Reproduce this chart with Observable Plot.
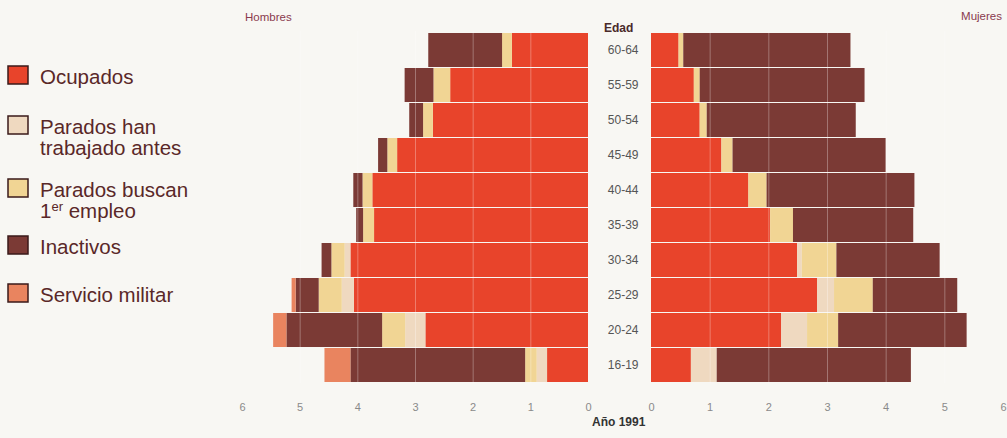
<!DOCTYPE html>
<html><head><meta charset="utf-8">
<script src="https://cdn.jsdelivr.net/npm/d3@7"></script>
<script src="https://cdn.jsdelivr.net/npm/@observablehq/plot@0.6"></script>
<style>
html,body{margin:0;padding:0;background:#f8f7f3;}
#wrap{position:relative;width:1007px;height:438px;overflow:hidden;font-family:"Liberation Sans",Arial,sans-serif;}
#wrap > svg, #wrap > div{position:absolute;top:0;}
</style></head><body><div id="wrap"></div>
<script>
// ---- data ----
const ages = ["60-64","55-59","50-54","45-49","40-44","35-39","30-34","25-29","20-24","16-19"];
const categories = ["Ocupados","Parados han trabajado antes","Parados buscan 1er empleo","Inactivos","Servicio militar"];
const colors = ["#e8442b","#efd9c0","#f1d594","#7b3a35","#e9845f"];
const xTicks = [0,1,2,3,4,5,6];

// Hombres (millones)
const ocupadosH      = [1.32, 2.39, 2.69, 3.31, 3.74, 3.71, 4.12, 4.06, 2.82, 0.71];
const paradosAntesH  = [0,    0,    0,    0,    0,    0,    0.10, 0.21, 0.35, 0.18];
const paradosPrimerH = [0.17, 0.29, 0.17, 0.17, 0.17, 0.19, 0.23, 0.40, 0.40, 0.20];
const inactivosH     = [1.28, 0.50, 0.24, 0.16, 0.16, 0.12, 0.17, 0.40, 1.66, 3.03];
const servicioH      = [0,    0,    0,    0,    0,    0,    0,    0.07, 0.23, 0.45];

// Mujeres
const ocupadosM      = [0.47, 0.73, 0.83, 1.20, 1.66, 2.03, 2.49, 2.83, 2.22, 0.68];
const paradosAntesM  = [0,    0,    0,    0,    0,    0,    0.08, 0.29, 0.44, 0.44];
const paradosPrimerM = [0.08, 0.10, 0.12, 0.19, 0.31, 0.39, 0.59, 0.66, 0.53, 0];
const inactivosM     = [2.85, 2.81, 2.54, 2.61, 2.52, 2.05, 1.76, 1.44, 2.19, 3.31];
const servicioM      = [0,    0,    0,    0,    0,    0,    0,    0,    0,    0];

function toRows(series){
  const rows=[];
  categories.forEach((c,i)=>ages.forEach((a,j)=>{ if(series[i][j]>0) rows.push({age:a,cat:c,value:series[i][j]}); }));
  return rows;
}
const rowsH = toRows([ocupadosH,paradosAntesH,paradosPrimerH,inactivosH,servicioH]);
const rowsM = toRows([ocupadosM,paradosAntesM,paradosPrimerM,inactivosM,servicioM]);

const FONT = '"Liberation Sans", Arial, sans-serif';
const wrap = document.getElementById("wrap");

const common = {
  height:438, marginTop:31, marginBottom:55,
  style:{background:"transparent", fontFamily:FONT, fontSize:"11px", color:"#8a8a8a"},
  color:{domain:categories, range:colors}
};

const left = Plot.plot({
  ...common,
  width:370, marginLeft:12, marginRight:12,
  x:{domain:[0,6], reverse:true},
  y:{domain:ages, paddingInner:0.03, paddingOuter:0, axis:null},
  marks:[
    Plot.barX(rowsH,{x:"value", y:"age", fill:"cat", order:categories}),
    Plot.ruleX([1,2,3,4,5],{stroke:"#fff", strokeOpacity:0.3}),
    Plot.axisX({anchor:"bottom", ticks:xTicks, tickSize:0, tickPadding:20, tickFormat:d=>String(d), fill:"#8a8a8a", fontSize:11, label:null})
  ]
});
left.style.left = "230px";
wrap.appendChild(left);

const right = Plot.plot({
  ...common,
  width:412, marginLeft:56, marginRight:4,
  x:{domain:[0,6]},
  y:{domain:ages, paddingInner:0.03, paddingOuter:0},
  marks:[
    Plot.barX(rowsM,{x:"value", y:"age", fill:"cat", order:categories}),
    Plot.ruleX([1,2,3,4,5],{stroke:"#fff", strokeOpacity:0.3}),
    Plot.axisX({anchor:"bottom", ticks:xTicks, tickSize:0, tickPadding:20, tickFormat:d=>String(d), fill:"#8a8a8a", fontSize:11, label:null}),
    Plot.axisY({anchor:"left", tickSize:0, tickPadding:13, fill:"#555", fontSize:12, label:null})
  ]
});
right.style.left = "595px";
wrap.appendChild(right);

// ---- overlay: legend and titles ----
const svg = d3.select(wrap).append("svg")
  .attr("width",1007).attr("height",438)
  .style("left","0px").style("pointer-events","none")
  .style("font-family",FONT);

const legendLines = [
  [{t:"Ocupados"}],
  [{t:"Parados han"},{t:"trabajado antes"}],
  [{t:"Parados buscan"},{t:"1",sup:"er",rest:" empleo"}],
  [{t:"Inactivos"}],
  [{t:"Servicio militar"}]
];
const legendBase = [84, 134, 197, 254, 302];
legendLines.forEach((lines,i)=>{
  const b = legendBase[i];
  svg.append("rect").attr("x",8).attr("y",b-18).attr("width",20).attr("height",18)
    .attr("fill",colors[i]).attr("stroke","#3a1a1a").attr("stroke-width",1.5);
  lines.forEach((ln,k)=>{
    const t = svg.append("text").attr("x",40).attr("y",b+k*21)
      .attr("font-size",20.5).attr("fill","#5a2828");
    if(ln.sup){
      t.append("tspan").text(ln.t);
      t.append("tspan").attr("font-size",13).attr("dy",-7).text(ln.sup);
      t.append("tspan").attr("dy",7).text(ln.rest);
    } else t.text(ln.t);
  });
});

svg.append("text").attr("x",245).attr("y",21).attr("font-size",11.5).attr("fill","#8a3a4e").text("Hombres");
svg.append("text").attr("x",1002).attr("y",20).attr("text-anchor","end").attr("font-size",11.5).attr("fill","#8a3a4e").text("Mujeres");
svg.append("text").attr("x",604).attr("y",32).attr("font-size",12).attr("font-weight","bold").attr("fill","#4a2a2a").text("Edad");
svg.append("text").attr("x",592).attr("y",426).attr("font-size",12).attr("font-weight","bold").attr("fill","#333").text("Año 1991");
</script>
</body></html>
